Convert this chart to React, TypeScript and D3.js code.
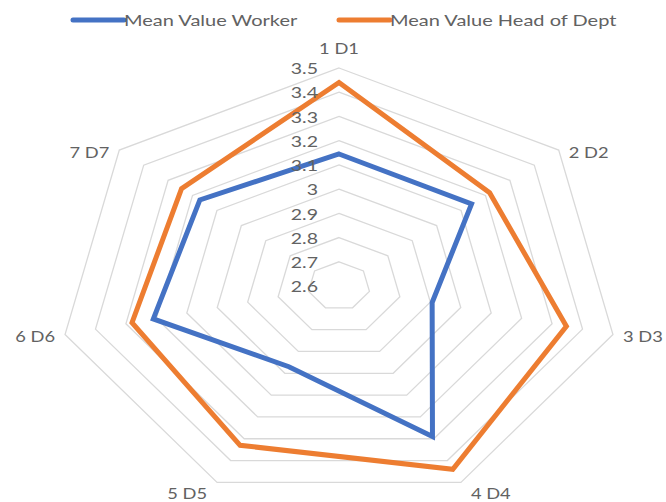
import React from "react";
import * as d3 from "d3";

// categories around the radar (clockwise from top)
const categories: string[] = ["1 D1", "2 D2", "3 D3", "4 D4", "5 D5", "6 D6", "7 D7"];
const workerValues: number[] = [3.145, 3.143, 2.906, 3.29, 2.97, 3.21, 3.17];
const headValues: number[] = [3.44, 3.217, 3.347, 3.44, 3.33, 3.28, 3.245];
const tickValues: number[] = [2.6, 2.7, 2.8, 2.9, 3, 3.1, 3.2, 3.3, 3.4, 3.5];

const seriesNames = ["Mean Value Worker", "Mean Value Head of Dept"];
const seriesColors = ["#4472C4", "#ED7D31"];

const W = 666;
const H = 502;
const cx = 339;
const cy = 286;
const Rx = 281; // picture is stretched horizontally
const Ry = 218;
const FONT = "Lato, 'Open Sans', sans-serif";
const TEXT_COL = "#626262";
const SX = 1.22; // horizontal stretch for text

const App: React.FC = () => {
  const r = d3.scaleLinear().domain([2.6, 3.5]).range([0, 1]);
  const n = categories.length;
  const angle = (i: number) => (i * 2 * Math.PI) / n;
  const pt = (i: number, v: number): [number, number] => {
    const a = angle(i);
    const k = r(v);
    return [cx + Rx * k * Math.sin(a), cy - Ry * k * Math.cos(a)];
  };

  const closed = d3.line<[number, number]>().curve(d3.curveLinearClosed);

  const ringPath = (v: number) => closed(categories.map((_, i) => pt(i, v))) ?? "";
  const seriesPath = (vals: number[]) => closed(vals.map((v, i) => pt(i, v))) ?? "";

  const maxV = tickValues[tickValues.length - 1];

  return (
    <svg width={W} height={H} style={{ position: "absolute", left: 0, top: 0, background: "#fff" }}>
      {/* legend */}
      {seriesNames.map((name, i) => {
        const x0 = i === 0 ? 73 : 339;
        return (
          <g key={name}>
            <line x1={x0} x2={x0 + 51} y1={20} y2={20} stroke={seriesColors[i]} strokeWidth={5} strokeLinecap="round" />
            <text
              transform={`translate(${x0 + 51},20) scale(1.25,1)`}
              dominantBaseline="central"
              fontFamily={FONT}
              fontSize={16}
              fill={TEXT_COL}
            >
              {name}
            </text>
          </g>
        );
      })}

      {/* rings */}
      {tickValues.slice(1).map((v) => (
        <path key={v} d={ringPath(v)} fill="none" stroke="#d9d9d9" strokeWidth={1.3} />
      ))}

      {/* series */}
      {[workerValues, headValues].map((vals, s) => (
        <path
          key={s}
          d={seriesPath(vals)}
          fill="none"
          stroke={seriesColors[s]}
          strokeWidth={5}
          strokeLinejoin="miter"
        />
      ))}

      {/* tick labels */}
      {tickValues.map((v) => (
        <text
          key={v}
          transform={`translate(318,${cy - Ry * r(v)}) scale(${SX},1)`}
          textAnchor="end"
          dominantBaseline="central"
          fontFamily={FONT}
          fontSize={16}
          fill={TEXT_COL}
        >
          {d3.format("~g")(v)}
        </text>
      ))}

      {/* category labels */}
      {categories.map((c, i) => {
        const [vx, vy] = pt(i, maxV);
        const s = Math.sin(angle(i));
        const co = Math.cos(angle(i));
        const anchor = s > 0.1 ? "start" : s < -0.1 ? "end" : "middle";
        const x = vx + (s > 0.1 ? 10 : s < -0.1 ? -10 : 0);
        const y = vy + (co > 0.9 ? -20 : co < -0.5 ? 11 : 2);
        return (
          <text
            key={c}
            transform={`translate(${x},${y}) scale(${SX},1)`}
            textAnchor={anchor}
            dominantBaseline="central"
            fontFamily={FONT}
            fontSize={15}
            fill={TEXT_COL}
          >
            {c}
          </text>
        );
      })}
    </svg>
  );
};

export default App;
